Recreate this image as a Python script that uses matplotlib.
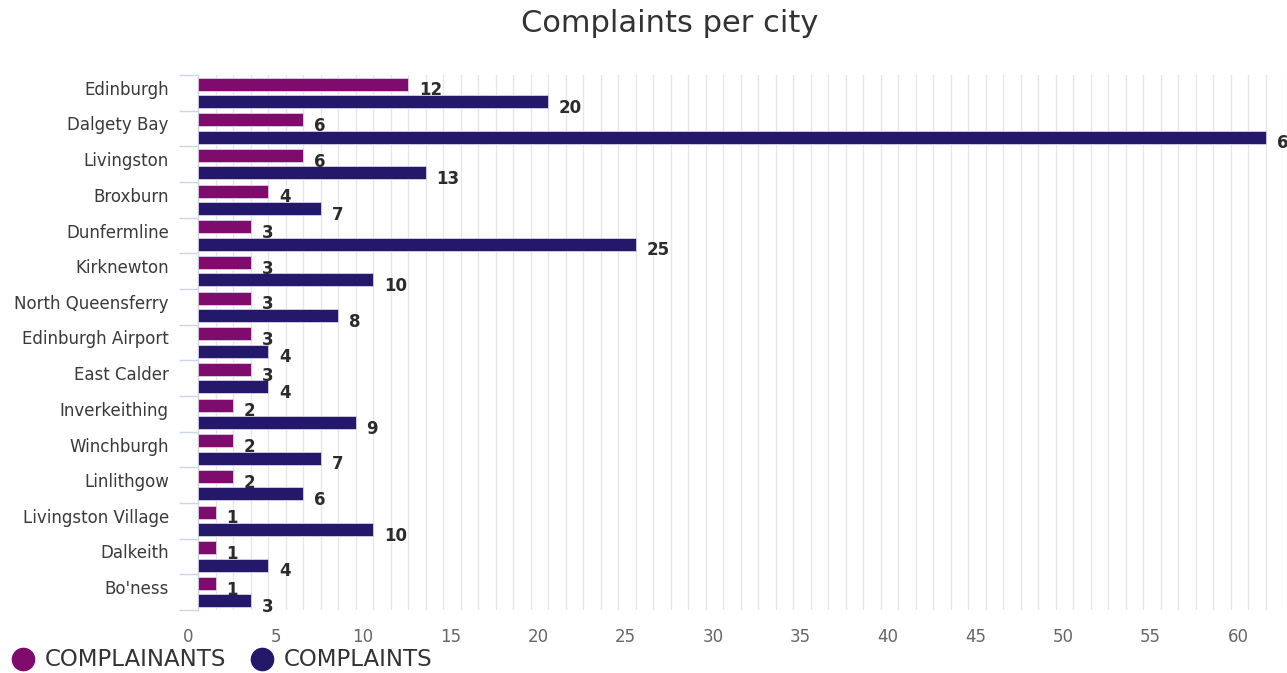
import numpy as np
import matplotlib
matplotlib.use("Agg")
import matplotlib.pyplot as plt
from matplotlib.lines import Line2D
from matplotlib.transforms import ScaledTranslation

# complaints per city, two series
cities = ["Edinburgh", "Dalgety Bay", "Livingston", "Broxburn", "Dunfermline",
          "Kirknewton", "North Queensferry", "Edinburgh Airport", "East Calder",
          "Inverkeithing", "Winchburgh", "Linlithgow", "Livingston Village",
          "Dalkeith", "Bo'ness"]
complainants = [12, 6, 6, 4, 3, 3, 3, 3, 3, 2, 2, 2, 1, 1, 1]
complaints = [20, 61, 13, 7, 25, 10, 8, 4, 4, 9, 7, 6, 10, 4, 3]
series_names = ["COMPLAINANTS", "COMPLAINTS"]
series_colors = ["#7f0b6c", "#24186a"]

plt.rcParams["font.family"] = "DejaVu Sans"

fig = plt.figure(figsize=(12.87, 6.73), dpi=100)
ax = fig.add_axes([198 / 1287, 1 - 610 / 673, 1085 / 1287, 535 / 673])

y = np.arange(len(cities))
off = 0.245
h = 0.36
for vals, sign, col in zip([complainants, complaints], [-1, 1], series_colors):
    bars = ax.barh(y + sign * off, vals, height=h, color=col,
                   edgecolor="#d8d0e8", linewidth=0.6, zorder=3)
    for b, v in zip(bars, vals):
        ax.annotate(str(v), (b.get_width(), b.get_y() + b.get_height() / 2),
                    xytext=(8, -4.5), textcoords="offset points",
                    ha="left", va="center", fontsize=12, fontweight="bold",
                    color="#2b2b2b", annotation_clip=False, zorder=4)

ax.set_xlim(0, 62)
ax.set_ylim(len(cities) - 0.5, -0.5)

# light vertical grid every unit
for gx in range(1, 63):
    ax.axvline(gx, color="#e6e6e6", lw=1, zorder=1)

ax.set_xticks(np.arange(0, 61, 5))
ax.tick_params(axis="x", length=0, pad=13, labelsize=12, labelcolor="#666666")
for lab in ax.get_xticklabels():
    lab.set_transform(lab.get_transform() + ScaledTranslation(-0.10, 0, fig.dpi_scale_trans))

ax.set_yticks(y)
ax.set_yticklabels(cities)
ax.tick_params(axis="y", which="major", length=0, pad=21, labelsize=12, labelcolor="#3a3a3a")
for lab in ax.get_yticklabels():
    lab.set_transform(lab.get_transform() + ScaledTranslation(0, 0.05, fig.dpi_scale_trans))
ax.set_yticks(np.arange(-0.5, len(cities), 1), minor=True)
ax.tick_params(axis="y", which="minor", length=13.5, width=1, color="#ccd6eb")

for s in ["top", "right", "bottom"]:
    ax.spines[s].set_visible(False)
ax.spines["left"].set_color("#ccd6eb")
ax.spines["left"].set_linewidth(1)

fig.text(670 / 1287, 1 - 23 / 673, "Complaints per city", ha="center", va="center",
         fontsize=22, color="#333333")

# legend along the bottom left
legend_x = [23, 262]
for name, col, lx in zip(series_names, series_colors, legend_x):
    fig.add_artist(Line2D([lx / 1287], [1 - 659 / 673], transform=fig.transFigure,
                          marker="o", markersize=16, color=col, linestyle="none"))
    fig.text((lx + 22) / 1287, 1 - 660 / 673, name, ha="left", va="center",
             fontsize=16.5, color="#333333")

fig.savefig("out.png", dpi=100)
